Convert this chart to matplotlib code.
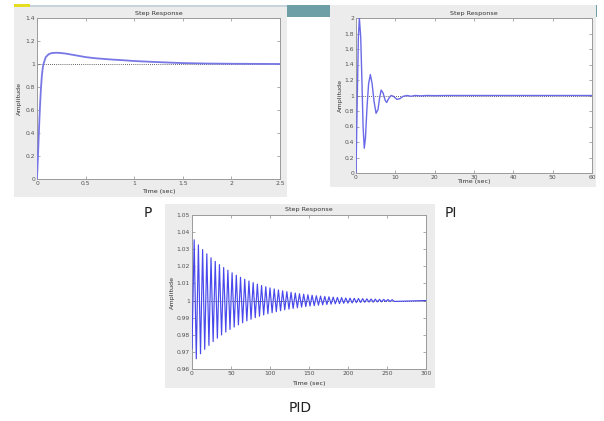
import matplotlib
matplotlib.use("Agg")
import matplotlib.pyplot as plt
from matplotlib.patches import Rectangle

W, H = 604, 421

# P controller step response (time in sec, amplitude)
p_time = [0, 0.01, 0.02, 0.03, 0.04, 0.05, 0.06, 0.07, 0.09, 0.12, 0.15, 0.2, 0.25,
          0.3, 0.4, 0.5, 0.6, 0.75, 0.9, 1.0, 1.2, 1.4, 1.5, 1.75, 2.0, 2.25, 2.5]
p_amp = [0, 0.2, 0.42, 0.62, 0.78, 0.9, 0.97, 1.01, 1.06, 1.085, 1.095, 1.098, 1.095,
         1.09, 1.075, 1.06, 1.05, 1.04, 1.032, 1.026, 1.018, 1.011, 1.008, 1.004, 1.002, 1.001, 1.0]

# PI controller step response
pi_time = [0, 0.3, 0.6, 0.85, 1.2, 1.5, 1.8, 2.1, 2.4, 2.8, 3.2, 3.65, 4.1, 4.6, 5.1,
           5.6, 6.0, 6.4, 6.9, 7.4, 7.8, 8.3, 8.9, 9.5, 10.4, 11.2, 12, 13, 14, 15,
           16.5, 18, 20, 23, 60]
pi_amp = [0, 0.9, 1.75, 2.0, 1.75, 1.2, 0.6, 0.32, 0.45, 0.85, 1.15, 1.27, 1.15, 0.92, 0.77,
          0.82, 0.97, 1.07, 1.03, 0.94, 0.91, 0.96, 1.0, 0.99, 0.95, 0.96, 0.99, 1.0, 0.99, 1.0,
          0.995, 1.0, 0.998, 1.0, 1.0]

# PID controller step response, peaks and troughs
pid_time = [0, 2.8, 5.5, 8.2, 10.9, 13.6, 16.3, 19.0, 21.7, 24.4, 27.1, 29.8, 32.5, 35.2,
            37.9, 40.6, 43.3, 46.0, 48.7, 51.4, 54.1, 56.8, 59.5, 62.2, 64.9, 67.6, 70.3,
            73.0, 75.7, 78.4, 81.1, 83.8, 86.5, 89.2, 91.9, 94.6, 97.3, 100.0, 102.7, 105.4,
            108.1, 110.8, 113.5, 116.2, 118.9, 121.6, 124.3, 127.0, 129.7, 132.4, 135.1,
            137.8, 140.5, 143.2, 145.9, 148.6, 151.3, 154.0, 156.7, 159.4, 162.1, 164.8,
            167.5, 170.2, 172.9, 175.6, 178.3, 181.0, 183.7, 186.4, 189.1, 191.8, 194.5,
            197.2, 199.9, 202.6, 205.3, 208.0, 210.7, 213.4, 216.1, 218.8, 221.5, 224.2,
            226.9, 229.6, 232.3, 235.0, 237.7, 240.4, 243.1, 245.8, 248.5, 251.2, 253.9,
            256.6, 259.3, 300]
pid_amp = [0.972, 1.0355, 0.9660, 1.0325, 0.9689, 1.0298, 0.9715, 1.0273, 0.9738, 1.0250,
           0.9760, 1.0229, 0.9780, 1.0210, 0.9799, 1.0193, 0.9816, 1.0177, 0.9831, 1.0162,
           0.9845, 1.0148, 0.9858, 1.0136, 0.9870, 1.0125, 0.9881, 1.0114, 0.9891, 1.0105,
           0.9900, 1.0096, 0.9908, 1.0088, 0.9916, 1.0081, 0.9923, 1.0074, 0.9929, 1.0068,
           0.9935, 1.0062, 0.9941, 1.0057, 0.9946, 1.0052, 0.9950, 1.0048, 0.9954, 1.0044,
           0.9958, 1.0040, 0.9962, 1.0037, 0.9965, 1.0034, 0.9968, 1.0031, 0.9970, 1.0028,
           0.9973, 1.0026, 0.9975, 1.0024, 0.9977, 1.0022, 0.9979, 1.0020, 0.9981, 1.0018,
           0.9982, 1.0017, 0.9984, 1.0015, 0.9985, 1.0014, 0.9986, 1.0013, 0.9988, 1.0012,
           0.9989, 1.0011, 0.9990, 1.0010, 0.9991, 1.0009, 0.9991, 1.0008, 0.9992, 1.0007,
           0.9993, 1.0007, 0.9994, 1.0006, 0.9994, 1.0005, 0.9995, 1.0]

p_xticks = [0, 0.5, 1, 1.5, 2, 2.5]
p_yticks = [0, 0.2, 0.4, 0.6, 0.8, 1, 1.2, 1.4]
pi_xticks = [0, 10, 20, 30, 40, 50, 60]
pi_yticks = [0, 0.2, 0.4, 0.6, 0.8, 1, 1.2, 1.4, 1.6, 1.8, 2]
pid_xticks = [0, 50, 100, 150, 200, 250, 300]
pid_yticks = [0.96, 0.97, 0.98, 0.99, 1.0, 1.01, 1.02, 1.03, 1.04, 1.05]

BG = "#ececec"
TXT = "#505050"


def box(x0, y0, x1, y1):
    return [x0 / W, 1 - y1 / H, (x1 - x0) / W, (y1 - y0) / H]


def fig_rect(fig, x0, y0, x1, y1, color):
    fig.patches.append(Rectangle((x0 / W, 1 - y1 / H), (x1 - x0) / W, (y1 - y0) / H,
                                 transform=fig.transFigure, facecolor=color,
                                 edgecolor="none", zorder=-5))


def fmt(v):
    return ("%g" % round(v, 4))


def step_panel(fig, bg, ax_box, t, y, xlim, ylim, xticks, yticks, color, lw, ylab_x):
    fig_rect(fig, *bg, BG)
    ax = fig.add_axes(box(*ax_box), zorder=2)
    ax.set_facecolor("white")
    ax.plot(t, y, color=color, lw=lw, zorder=3)
    ax.axhline(1, color="#333333", lw=0.6, ls=(0, (1, 1.5)), zorder=2)
    ax.set_xlim(*xlim)
    ax.set_ylim(*ylim)
    ax.set_xticks(xticks)
    ax.set_yticks(yticks)
    ax.set_xticklabels([fmt(v) for v in xticks])
    ax.set_yticklabels([fmt(v) for v in yticks])
    ax.tick_params(direction="in", length=2, width=0.5, labelsize=4.3, colors="#888888",
                   labelcolor=TXT, top=True, right=True, pad=1.5)
    for s in ax.spines.values():
        s.set_color("#9a9a9a")
        s.set_linewidth(0.7)
    cx = (ax_box[0] + ax_box[2]) / 2 / W
    fig.text(cx, 1 - (ax_box[1] - 5) / H, "Step Response", ha="center", va="center",
             fontsize=4.6, color="#333333")
    fig.text(cx, 1 - (bg[3] - 5) / H, "Time (sec)", ha="center", va="center",
             fontsize=4.6, color="#333333")
    fig.text(ylab_x / W, 1 - (ax_box[1] + ax_box[3]) / 2 / H, "Amplitude", ha="center",
             va="center", rotation=90, fontsize=4.6, color="#333333")
    return ax


fig = plt.figure(figsize=(W / 100, H / 100), dpi=100)
fig.patch.set_facecolor("white")

# screenshot decorations along the top
fig_rect(fig, 14, 4, 30, 7, "#e6dc20")
fig_rect(fig, 30, 5, 287, 7, "#c8d4dc")
fig_rect(fig, 287, 5, 330, 17, "#6e9ea6")
fig_rect(fig, 595, 5, 597, 17, "#6e9ea6")

step_panel(fig, (14, 7, 287, 197), (37, 18, 280, 179), p_time, p_amp,
           (0, 2.5), (0, 1.4), p_xticks, p_yticks, "#7777e6", 1.3, 19)
step_panel(fig, (330, 5, 596, 187), (356, 18, 592, 173), pi_time, pi_amp,
           (0, 60), (0, 2), pi_xticks, pi_yticks, "#6a6ae8", 1.0, 340)
step_panel(fig, (165, 204, 435, 388), (192, 215, 426, 369), pid_time, pid_amp,
           (0, 300), (0.96, 1.05), pid_xticks, pid_yticks, "#4848ec", 0.85, 172)

fig.text(148 / W, 1 - 213 / H, "P", ha="center", va="center", fontsize=10, color="#222222")
fig.text(451 / W, 1 - 213 / H, "PI", ha="center", va="center", fontsize=10, color="#222222")
fig.text(300 / W, 1 - 408 / H, "PID", ha="center", va="center", fontsize=10, color="#222222")

fig.savefig("out.png", dpi=100, facecolor="white")
